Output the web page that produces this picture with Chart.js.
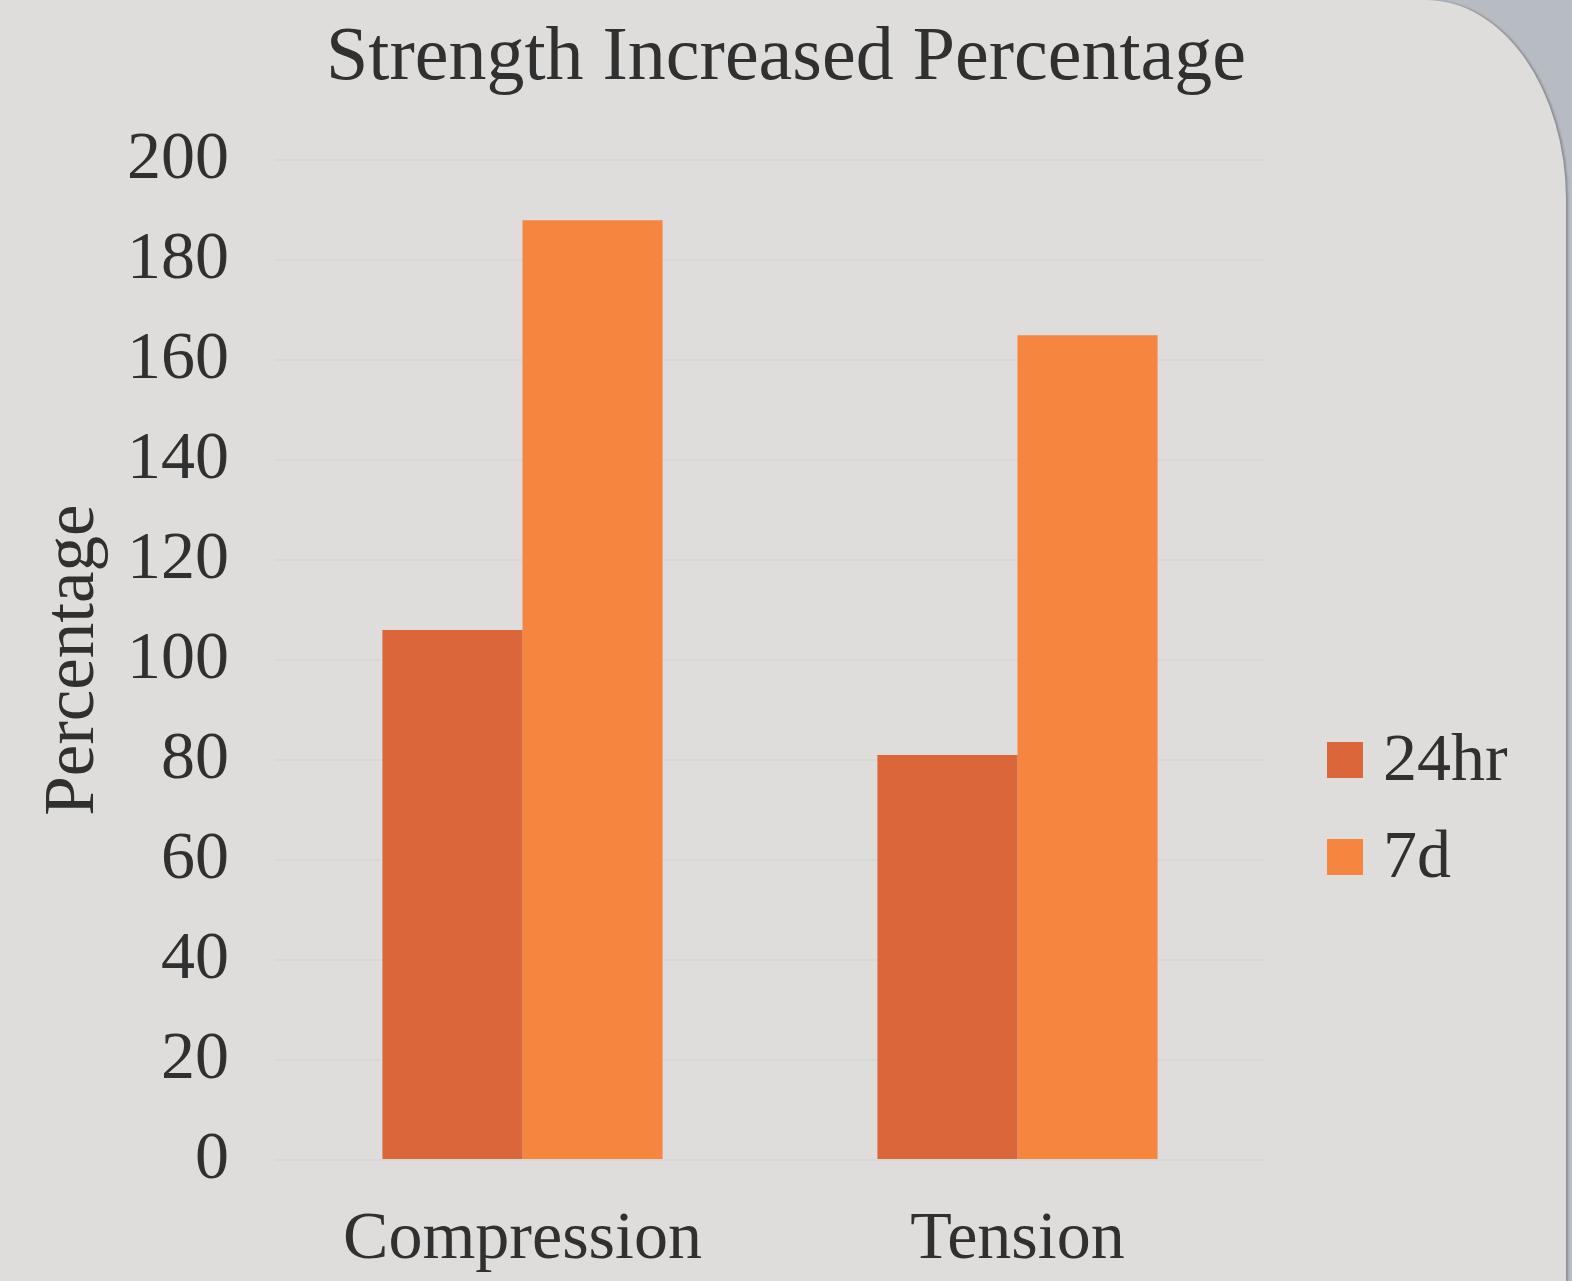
<!DOCTYPE html>
<html>
<head>
<meta charset="utf-8">
<title>Strength Increased Percentage</title>
<script src="https://cdn.jsdelivr.net/npm/chart.js@4/dist/chart.umd.min.js"></script>
<style>
  html, body { margin: 0; padding: 0; }
  body {
    width: 1572px; height: 1281px; overflow: hidden;
    background: #b7bbc2; position: relative;
  }
  #card {
    position: absolute; left: 0; top: 0;
    width: 1566px; height: 1281px;
    background: #dedddb;
    border-top-right-radius: 140px 200px;
    box-shadow: 2px 0 2px rgba(60,60,60,0.35);
  }
  #chart { position: absolute; left: 0; top: 0; }
</style>
</head>
<body>
<div id="card"></div>
<canvas id="chart" width="1572" height="1281"></canvas>
<script>
// Categories, series and axis settings
const categories = ['Compression', 'Tension'];
const seriesNames = ['24hr', '7d'];
const values24hr = [106, 81];
const values7d = [188, 165];
const yMin = 0;
const yMax = 200;
const yStep = 20;

const colors = ['#da663a', '#f5853f'];
const textColor = '#303030';
const serif = "'Liberation Serif', 'Times New Roman', serif";

// Legend drawn beside the plot, using the dataset labels and colours
const sideLegend = {
  id: 'sideLegend',
  afterDraw(chart) {
    const ctx = chart.ctx;
    const x = 1327, box = 36, firstY = 760, gap = 97;
    ctx.save();
    ctx.font = '68px ' + serif;
    ctx.textBaseline = 'middle';
    ctx.textAlign = 'left';
    chart.data.datasets.forEach((ds, i) => {
      const cy = firstY + i * gap;
      ctx.fillStyle = ds.backgroundColor;
      ctx.fillRect(x, cy - box / 2, box, box);
      ctx.fillStyle = textColor;
      ctx.fillText(ds.label, x + box + 20, cy + 2);
    });
    ctx.restore();
  }
};

new Chart(document.getElementById('chart'), {
  type: 'bar',
  data: {
    labels: categories,
    datasets: [
      { label: seriesNames[0], data: values24hr, backgroundColor: colors[0] },
      { label: seriesNames[1], data: values7d, backgroundColor: colors[1] }
    ]
  },
  options: {
    responsive: false,
    maintainAspectRatio: false,
    devicePixelRatio: 1,
    animation: false,
    layout: { padding: 0 },
    datasets: { bar: { categoryPercentage: 0.566, barPercentage: 1.0, borderWidth: 0 } },
    plugins: {
      legend: { display: false },
      tooltip: { enabled: false },
      title: {
        display: true,
        text: 'Strength Increased Percentage',
        color: textColor,
        font: { family: serif, size: 76, weight: 'normal', lineHeight: 1.2 },
        padding: { top: 13, bottom: 56 }
      }
    },
    scales: {
      x: {
        afterFit(scale) { scale.height = 121; },
        grid: { display: false, drawTicks: false },
        border: { display: false },
        ticks: {
          color: textColor,
          padding: 39,
          font: { family: serif, size: 68, lineHeight: 1.2 }
        }
      },
      y: {
        min: yMin,
        max: yMax,
        afterFit(scale) { scale.width = 275; },
        ticks: {
          stepSize: yStep,
          color: textColor,
          padding: 46,
          font: { family: serif, size: 68, lineHeight: 1.2 }
        },
        grid: { color: 'rgba(120,120,120,0.06)', lineWidth: 2, drawTicks: false },
        border: { display: false },
        title: {
          display: true,
          text: 'Percentage',
          color: textColor,
          padding: { top: 32, bottom: 0 },
          font: { family: serif, size: 71, lineHeight: 1.2 }
        }
      },
      // empty band on the right that holds the legend
      side: {
        type: 'linear',
        position: 'right',
        afterFit(scale) { scale.width = 307; },
        grid: { display: false, drawTicks: false },
        border: { display: false },
        ticks: { display: false }
      }
    }
  },
  plugins: [sideLegend]
});
</script>
</body>
</html>
